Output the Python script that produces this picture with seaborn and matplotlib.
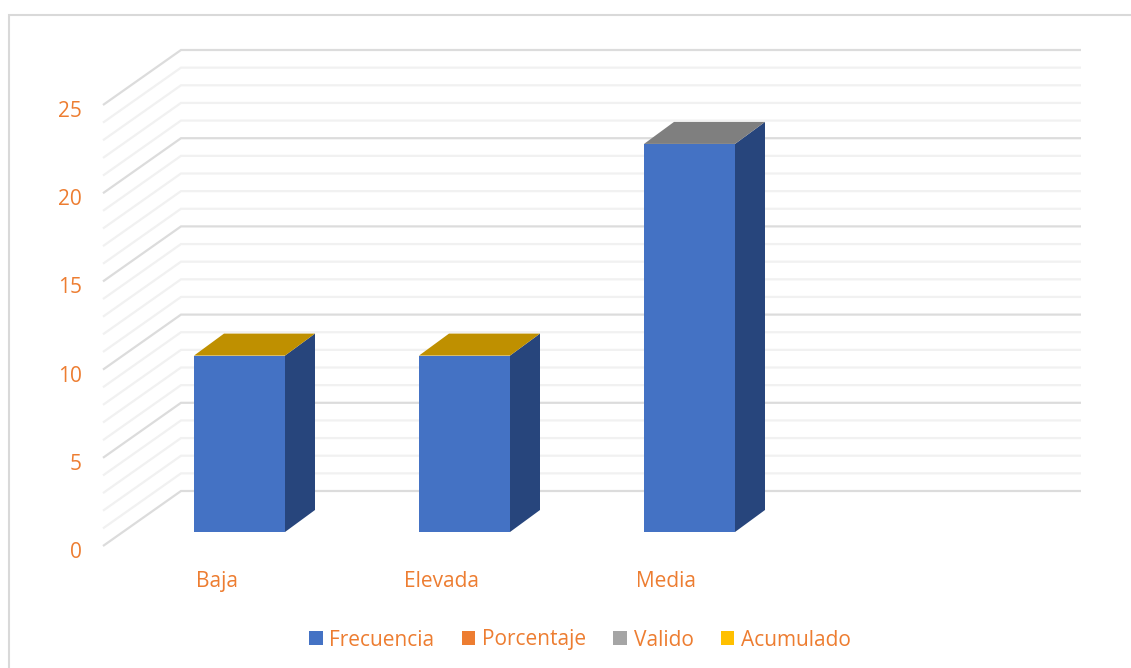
import pandas as pd
import matplotlib
matplotlib.use("Agg")
import matplotlib.pyplot as plt
import seaborn as sns
from matplotlib.lines import Line2D
from matplotlib.patches import Patch, Polygon
from matplotlib.transforms import ScaledTranslation

# --- data ---
categories = ["Baja", "Elevada", "Media"]
frecuencia = [10, 10, 22]
y_ticks = [0, 5, 10, 15, 20, 25]
grid_levels = list(range(0, 26))
legend_labels = ["Frecuencia", "Porcentaje", "Valido", "Acumulado"]

# --- styles ---
FRONT = "#4472C4"
SIDE = "#27457C"
top_colors = ["#BF9000", "#BF9000", "#7F7F7F"]
legend_colors = ["#4472C4", "#ED7D31", "#A5A5A5", "#FFC000"]
TEXT = "#ED7D31"
W, H, DPI = 1131, 668, 100

sns.set_theme(style="white")
plt.rcParams["font.family"] = ["Open Sans", "DejaVu Sans"]

# pixel geometry of the chart
PX_CAT = 225.0      # px per category
PX_UNIT = 17.64     # px per value unit
X0, Y0 = 239.5, 532.0   # pixel of category 0 / value 0 in the bar plane
L, R, T, B = 82, 1131, 15, 566

fig = plt.figure(figsize=(W / DPI, H / DPI), dpi=DPI)
ax = fig.add_axes([L / W, (H - B) / H, (R - L) / W, (B - T) / H])

df = pd.DataFrame({"categoria": categories, "frecuencia": frecuencia})
sns.barplot(data=df, x="categoria", y="frecuencia", color=FRONT, saturation=1,
            width=91 / PX_CAT, ax=ax, zorder=5, linewidth=0)

ax.set_xlim((L - X0) / PX_CAT, (R - X0) / PX_CAT)
ax.set_ylim((Y0 - B) / PX_UNIT, (Y0 - T) / PX_UNIT)
ax.set_xlabel("")
ax.set_ylabel("")
sns.despine(ax=ax, left=True, bottom=True)


def dx(px):
    return px / PX_CAT


def dy(px):
    return px / PX_UNIT


# walls: gridlines run along the side wall, then along the back wall
x_front, x_back, x_end = [(p - X0) / PX_CAT for p in (103, 181, 1081)]
for lvl in grid_levels:
    major = lvl % 5 == 0
    ax.plot([x_front, x_back, x_end],
            [lvl - dy(14), lvl + dy(41), lvl + dy(41)],
            color="#DCDCDC" if major else "#F1F1F1", lw=1.6,
            solid_joinstyle="miter", solid_capstyle="butt", zorder=1)

# 3D faces of the bars
half = 91 / PX_CAT / 2
ddx, ddy = dx(30), dy(22)
for i, val in enumerate(frecuencia):
    xr, xl = i + half, i - half
    ax.add_patch(Polygon([(xr, 0), (xr + ddx, ddy), (xr + ddx, val + ddy), (xr, val)],
                         closed=True, fc=SIDE, ec="none", zorder=4))
    ax.add_patch(Polygon([(xl, val), (xl + ddx, val + ddy), (xr + ddx, val + ddy), (xr, val)],
                         closed=True, fc=top_colors[i], ec="none", zorder=4))

# axis text
ax.set_yticks(y_ticks, [str(v) for v in y_ticks])
ax.set_xticks(range(len(categories)), categories)
ax.tick_params(axis="both", length=0, labelsize=15, labelcolor=TEXT)
ax.tick_params(axis="y", pad=0)
ax.tick_params(axis="x", pad=3.8)
y_off = ScaledTranslation(0, -18 / DPI, fig.dpi_scale_trans)
x_off = ScaledTranslation(-23 / DPI, 0, fig.dpi_scale_trans)
for lab in ax.get_yticklabels():
    lab.set_transform(lab.get_transform() + y_off)
for lab in ax.get_xticklabels():
    lab.set_transform(lab.get_transform() + x_off)

# legend
handles = [Patch(fc=c, ec="none") for c in legend_colors]
leg = ax.legend(handles, legend_labels, ncol=4, frameon=False, fontsize=15,
                loc="center", bbox_to_anchor=(580 / W, (H - 640) / H),
                bbox_transform=fig.transFigure,
                handlelength=0.65, handleheight=0.65, handletextpad=0.33,
                columnspacing=1.3, labelcolor=TEXT)

# chart-area border
fig.add_artist(Line2D([9 / W, 9 / W, 1], [0, (H - 15) / H, (H - 15) / H],
                      color="#D9D9D9", lw=1.5, solid_joinstyle="miter"))

fig.savefig("out.png", dpi=DPI)
